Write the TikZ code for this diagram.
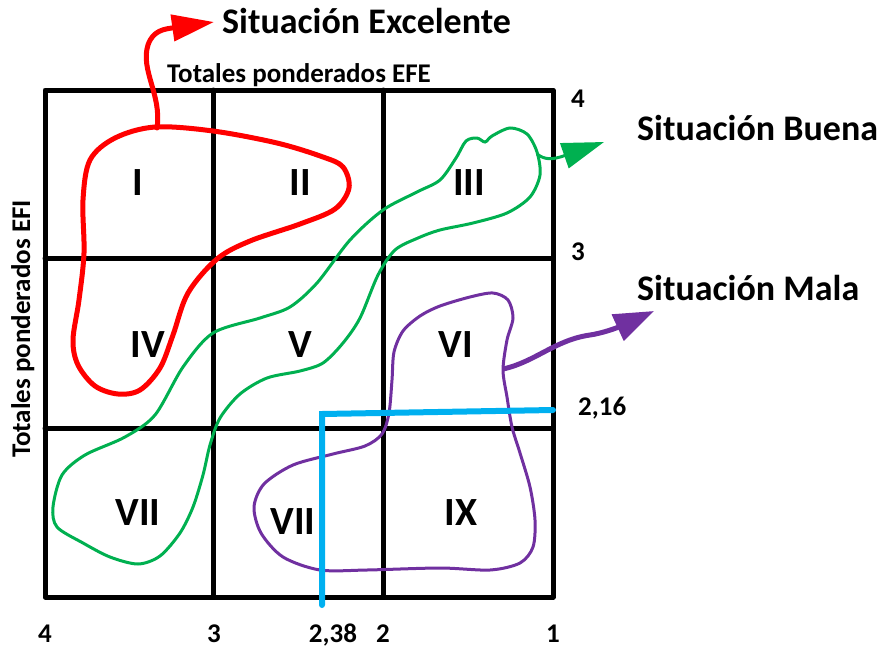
\documentclass[tikz,border=0pt]{standalone}
\usepackage{fontspec}
\setmainfont{Carlito}
\usetikzlibrary{arrows.meta}
\definecolor{cred}{RGB}{255,0,0}
\definecolor{cgreen}{RGB}{0,176,80}
\definecolor{cpurple}{RGB}{112,48,160}
\definecolor{cblue}{RGB}{0,176,240}
\tikzset{
  gridline/.style={line width=5pt, black, line join=round, line cap=round},
  roman/.style={font=\fontsize{40}{44}\selectfont\bfseries, inner sep=0pt},
  bigtxt/.style={font=\fontsize{36}{40}\selectfont\bfseries, inner sep=0pt, anchor=base west},
  numtxt/.style={font=\fontsize{27}{30}\selectfont\bfseries, inner sep=0pt, anchor=base},
  axtxt/.style={font=\fontsize{27}{30}\selectfont\bfseries, inner sep=0pt},
  redline/.style={cred, line width=5pt, line cap=round},
  greenline/.style={cgreen, line width=3pt},
  purpleline/.style={cpurple, line width=3pt},
}
\begin{document}
\begin{tikzpicture}[x=1pt,y=-1pt]
\useasboundingbox (0,0) rectangle (878,648);
% grid
\draw[gridline] (45,90) rectangle (553,597);
\draw[gridline] (213,90) -- (213,597);
\draw[gridline] (383,90) -- (383,597);
\draw[gridline] (45,258) -- (553,258);
\draw[gridline] (45,428) -- (553,428);

% red blob
\draw[redline, smooth cycle, tension=0.55] plot coordinates {
 (155,127) (213,131) (277,143) (323,157) (343,167) (349,188) (335,209)
 (300,224) (250,241) (217,259) (188,293) (173,335) (160,368) (140,390)
 (118,394) (95,386) (78,365) (73,340) (79,300) (84,253) (83,200) (90,160) (115,138)};
\coordinate (redstart) at (157,128);
\node[bigtxt] (exc) at (222,33) {Situación Excelente};
\coordinate (redtip) at (214,22);
\draw[redline, -{Triangle[length=42pt,width=26pt]}] (redstart) .. controls (162,95) and (140,70) .. (148,45)
  .. controls (153,30) and (165,29) .. (redtip);

% green blob
\draw[greenline, smooth cycle, tension=0.5] plot coordinates {
 (53,507) (62,475) (85,455) (125,437) (155,415) (183,367) (213,333) (260,318)
 (290,307) (317,283) (350,240) (383,210) (417,192) (440,180) (456,158) (466,141)
 (477,138) (485,142) (492,136) (510,128) (527,134) (537,152) (540,175) (530,197)
 (507,213) (473,223) (440,230) (418,238) (395,250) (378,275) (360,318) (343,343)
 (323,363) (300,371) (267,378) (240,394) (220,418) (210,445) (203,475) (193,507)
 (180,533) (160,556) (138,564) (110,557) (83,543) (57,527)};
\coordinate (greenstart) at (537,154);
\coordinate (greentip) at (604,142);
\draw[greenline, -{Triangle[length=42pt,width=26pt]}] (greenstart) .. controls (545,160) and (552,160) .. (greentip);

% purple blob
\draw[purpleline, smooth cycle, tension=0.5] plot coordinates {
 (403,331) (420,316) (440,306) (470,297) (493,293) (508,300) (513,318) (507,340)
 (503,370) (507,397) (512,427) (520,453) (530,487) (535,520) (533,547) (520,563)
 (490,570) (440,568) (367,570) (320,570) (283,557) (261,533) (254,507) (264,484)
 (293,465) (333,454) (365,446) (382,434) (389,413) (392,380) (394,352)};
\coordinate (purplestart) at (503,369);
\coordinate (purpletip) at (654,311);
\draw[cpurple, line width=5pt, -{Triangle[length=40pt,width=28pt]}] (purplestart)
  .. controls (535,362) and (555,340) .. (590,335) .. controls (610,332) and (630,322) .. (purpletip);

% blue lines
\coordinate (b1) at (322,605);
\coordinate (b2) at (322,414);
\coordinate (b3) at (553,410);
\draw[cblue, line width=6pt, line cap=round, line join=miter] (b1) -- (b2) -- (b3);

% roman numerals
\node[roman] (r1) at (138,183) {I};
\node[roman] (r2) at (300,183) {II};
\node[roman] (r3) at (469,183) {III};
\node[roman] (r4) at (148,345) {IV};
\node[roman] (r5) at (300,345) {V};
\node[roman] (r6) at (456,345) {VI};
\node[roman] (r7) at (138,513) {VII};
\node[roman] (r8) at (293,522) {VII};
\node[roman] (r9) at (461,513) {IX};

% labels
\node[bigtxt] (buena) at (637,140) {Situación Buena};
\node[bigtxt] (mala) at (637,300) {Situación Mala};
\node[axtxt, anchor=base west] (efe) at (167,82) {Totales ponderados EFE};
\node[axtxt, anchor=base, rotate=90] (efi) at (30,329) {Totales ponderados EFI};

\node[numtxt] (y4) at (578,107) {4};
\node[numtxt] (y3) at (578,260) {3};
\node[numtxt, anchor=base west] (y216) at (578,415) {2,16};
\node[numtxt] (x4) at (45,642) {4};
\node[numtxt] (x3) at (214,642) {3};
\node[numtxt] (x238) at (333,642) {2,38};
\node[numtxt] (x2) at (383,642) {2};
\node[numtxt] (x1) at (553,642) {1};
\end{tikzpicture}
\end{document}
